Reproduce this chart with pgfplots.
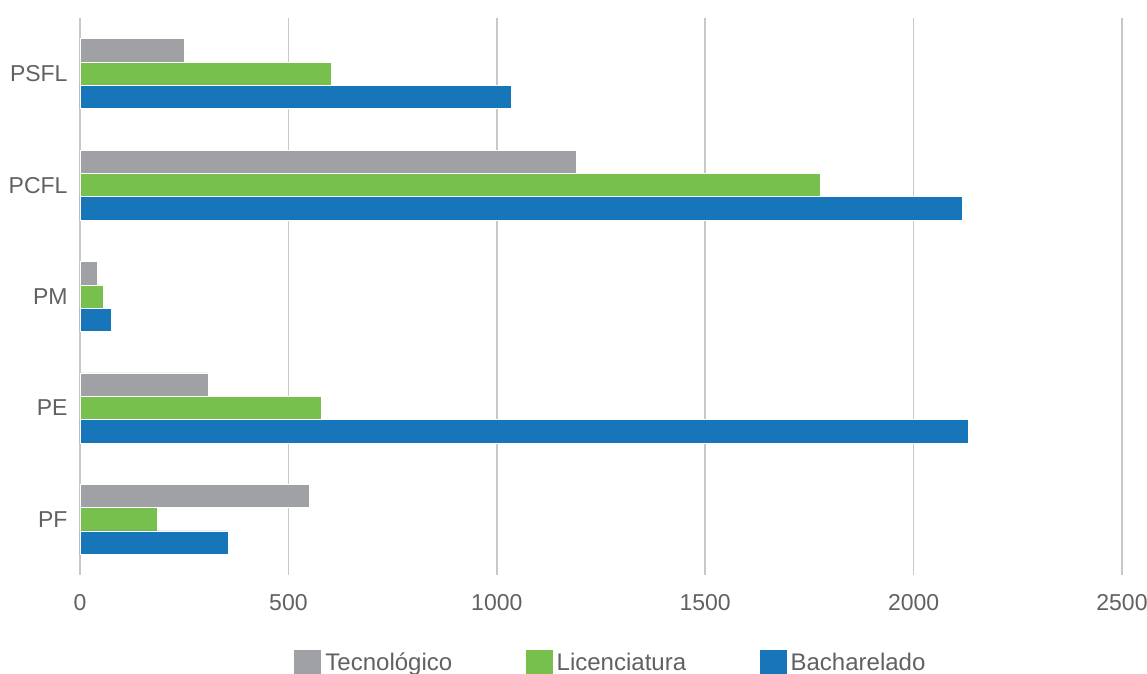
\documentclass[border=0pt]{standalone}
\usepackage{fontspec}
\setmainfont{Liberation Sans}
\usepackage{pgfplots}
\pgfplotsset{compat=1.18}
\definecolor{cgray}{HTML}{A0A1A5}
\definecolor{cgreen}{HTML}{77C04E}
\definecolor{cblue}{HTML}{1776BA}
\definecolor{ctext}{HTML}{616161}
\definecolor{cgrid}{HTML}{C8C8C8}
\begin{document}
\begin{tikzpicture}
\begin{axis}[
  scale only axis,
  width=521pt, height=278.5pt,
  xbar, bar width=11.65pt,
  xmin=0, xmax=2500,
  ymin=-0.5, ymax=4.5,
  xtick={0,500,1000,1500,2000,2500},
  ytick={0,1,2,3,4},
  yticklabels={PF,PE,PM,PCFL,PSFL},
  xmajorgrids,
  major grid style={cgrid, line width=0.75pt},
  axis line style={draw=none},
  major tick length=0pt,
  tick style={draw=none},
  /pgf/number format/assume math mode=true,
  /pgf/number format/1000 sep={},
  ticklabel style={font=\fontsize{11.5}{13}\selectfont, text=ctext},
  xticklabel style={yshift=-6pt},
  yticklabel style={xshift=-2.7pt},
  legend columns=3,
  legend style={draw=none, at={(0.5105,0)}, anchor=center, yshift=-44.25pt,
    font=\fontsize{12}{14}\selectfont, text=ctext,
    /tikz/every even column/.append style={column sep=34.75pt}},
  legend image code/.code={\fill[#1,draw=none] (0pt,-6.75pt) rectangle (13.5pt,6.75pt);},
]
\addplot[fill=cgray, draw=white, line width=0.3pt, bar shift=11.65pt] coordinates {(549,0) (307,1) (41,2) (1191,3) (251,4)};
\addlegendentry{Tecnológico}
\addplot[fill=cgreen, draw=white, line width=0.3pt, bar shift=0pt] coordinates {(185,0) (578,1) (55,2) (1776,3) (604,4)};
\addlegendentry{Licenciatura}
\addplot[fill=cblue, draw=white, line width=0.3pt, bar shift=-11.65pt] coordinates {(356,0) (2131,1) (74,2) (2116,3) (1034,4)};
\addlegendentry{Bacharelado}
\end{axis}
\pgfresetboundingbox
\path[use as bounding box] (-40pt,-49.5pt) rectangle (533.5pt,287.5pt);
\end{tikzpicture}
\end{document}
